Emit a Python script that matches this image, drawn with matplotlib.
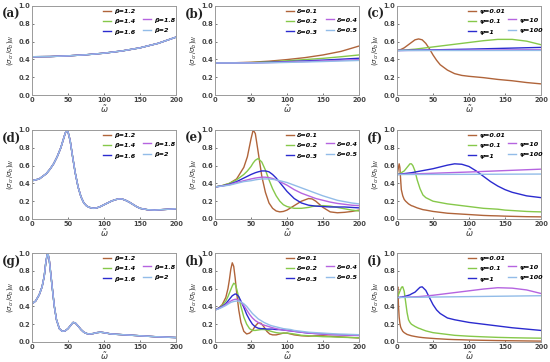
import matplotlib
matplotlib.use("Agg")
import matplotlib.pyplot as plt

# ---------------- data ----------------
beta_labels = ["β=1.2", "β=1.4", "β=1.6", "β=1.8", "β=2"]
delta_labels = ["δ=0.1", "δ=0.2", "δ=0.3", "δ=0.4", "δ=0.5"]
psi_labels = ["ψ=0.01", "ψ=0.1", "ψ=1", "ψ=10", "ψ=100"]
x_ticks = [0, 50, 100, 150, 200]
y_ticks = [0.0, 0.2, 0.4, 0.6, 0.8, 1.0]

# (a) all beta curves coincide
a_x = [0, 25, 50, 75, 100, 125, 150, 175, 200]
a_y = [0.43, 0.432, 0.44, 0.452, 0.47, 0.495, 0.53, 0.58, 0.65]

# (b)
b_x = [0, 25, 50, 75, 100, 125, 150, 175, 200]
b_d01 = [0.36, 0.362, 0.368, 0.38, 0.398, 0.42, 0.45, 0.49, 0.55]
b_d02 = [0.36, 0.361, 0.364, 0.372, 0.385, 0.398, 0.412, 0.43, 0.45]
b_d03 = [0.36, 0.36, 0.362, 0.367, 0.375, 0.383, 0.392, 0.402, 0.413]
b_d04 = [0.36, 0.36, 0.361, 0.364, 0.37, 0.376, 0.383, 0.39, 0.398]
b_d05 = [0.36, 0.36, 0.36, 0.362, 0.366, 0.371, 0.376, 0.382, 0.388]

# (c)
c_x = [0, 5, 10, 15, 20, 25, 30, 35, 40, 45, 50, 55, 60, 70, 80, 90, 100, 120, 140, 160, 180, 200]
c_p001 = [0.5, 0.51, 0.53, 0.56, 0.59, 0.62, 0.63, 0.62, 0.58, 0.52, 0.45, 0.39, 0.34, 0.28, 0.24, 0.22,
          0.21, 0.195, 0.175, 0.16, 0.14, 0.125]
c_p01 = [0.5, 0.502, 0.505, 0.508, 0.512, 0.515, 0.52, 0.525, 0.53, 0.535, 0.54, 0.545, 0.55, 0.56, 0.57,
         0.58, 0.59, 0.61, 0.625, 0.625, 0.605, 0.565]
c_x_lin = [0, 100, 200]
c_p1 = [0.5, 0.515, 0.535]
c_p10 = [0.5, 0.504, 0.51]
c_p100 = [0.5, 0.5, 0.501]

# (d) all beta curves coincide
d_x = [0, 10, 20, 25, 30, 35, 40, 43, 46, 48, 50, 53, 56, 60, 64, 68, 72, 76, 80, 85, 90, 95, 100, 105,
       110, 115, 120, 125, 130, 135, 140, 145, 150, 160, 170, 180, 190, 200]
d_y = [0.43, 0.45, 0.51, 0.56, 0.62, 0.70, 0.80, 0.88, 0.96, 1.0, 0.98, 0.88, 0.72, 0.52, 0.36, 0.25, 0.18,
       0.145, 0.13, 0.12, 0.125, 0.14, 0.16, 0.18, 0.20, 0.215, 0.225, 0.225, 0.21, 0.19, 0.165, 0.14,
       0.12, 0.105, 0.10, 0.105, 0.11, 0.115]

# (e)
e_x = [0, 10, 20, 30, 40, 45, 50, 53, 56, 60, 65, 70, 75, 80, 85, 90, 95, 100, 110, 120, 130, 135, 140,
       150, 160, 170, 180, 190, 200]
e_d01 = [0.36, 0.375, 0.40, 0.45, 0.58, 0.70, 0.90, 1.0, 0.96, 0.75, 0.48, 0.30, 0.18, 0.12, 0.09, 0.08,
         0.085, 0.10, 0.15, 0.20, 0.23, 0.225, 0.20, 0.13, 0.08, 0.07, 0.075, 0.085, 0.10]
e_d02 = [0.36, 0.375, 0.40, 0.44, 0.50, 0.54, 0.59, 0.63, 0.66, 0.68, 0.64, 0.55, 0.44, 0.34, 0.26, 0.20,
         0.16, 0.14, 0.12, 0.12, 0.13, 0.14, 0.145, 0.15, 0.145, 0.13, 0.115, 0.10, 0.09]
e_d03 = [0.36, 0.372, 0.39, 0.42, 0.46, 0.48, 0.50, 0.51, 0.52, 0.53, 0.54, 0.54, 0.53, 0.50, 0.46, 0.41,
         0.36, 0.31, 0.23, 0.18, 0.155, 0.15, 0.145, 0.14, 0.135, 0.135, 0.135, 0.13, 0.125]
e_d04 = [0.36, 0.37, 0.385, 0.41, 0.43, 0.44, 0.45, 0.455, 0.46, 0.465, 0.47, 0.47, 0.465, 0.455, 0.44,
         0.42, 0.40, 0.38, 0.33, 0.29, 0.26, 0.245, 0.23, 0.21, 0.19, 0.175, 0.165, 0.155, 0.15]
e_d05 = [0.36, 0.37, 0.38, 0.40, 0.42, 0.425, 0.43, 0.435, 0.44, 0.445, 0.45, 0.45, 0.45, 0.445, 0.44,
         0.43, 0.42, 0.41, 0.38, 0.35, 0.32, 0.305, 0.29, 0.26, 0.235, 0.21, 0.195, 0.18, 0.17]

# (f)
f_x = [0, 1, 2, 3, 4, 5, 6, 8, 10, 12, 14, 16, 18, 20, 22, 25, 28, 32, 36, 40, 50, 60, 70, 80, 90, 100,
       110, 120, 130, 140, 150, 160, 170, 180, 190, 200]
f_p001 = [0.5, 0.53, 0.58, 0.62, 0.58, 0.45, 0.33, 0.26, 0.22, 0.2, 0.185, 0.17, 0.16, 0.15, 0.145, 0.135,
          0.125, 0.115, 0.105, 0.10, 0.085, 0.075, 0.065, 0.06, 0.055, 0.05, 0.045, 0.04, 0.037, 0.035,
          0.032, 0.03, 0.028, 0.026, 0.025, 0.024]
f_p01 = [0.5, 0.5, 0.5, 0.51, 0.51, 0.52, 0.52, 0.53, 0.54, 0.56, 0.58, 0.60, 0.62, 0.62, 0.60, 0.54,
         0.44, 0.34, 0.27, 0.24, 0.20, 0.185, 0.17, 0.16, 0.15, 0.14, 0.13, 0.12, 0.115, 0.11, 0.10, 0.095,
         0.09, 0.085, 0.082, 0.08]
f_x1 = [0, 20, 40, 50, 60, 70, 80, 90, 100, 110, 120, 130, 140, 150, 160, 170, 180, 190, 200]
f_p1 = [0.5, 0.52, 0.55, 0.565, 0.585, 0.605, 0.62, 0.615, 0.59, 0.54, 0.48, 0.42, 0.37, 0.33, 0.30, 0.28,
        0.26, 0.25, 0.24]
f_x_lin = [0, 100, 200]
f_p10 = [0.5, 0.528, 0.56]
f_p100 = [0.5, 0.502, 0.505]

# (g) all beta curves coincide
g_x = [0, 5, 10, 14, 17, 19, 21, 22, 24, 28, 31, 34, 38, 42, 46, 50, 54, 57, 60, 64, 68, 72, 76, 80, 85,
       90, 95, 100, 110, 120, 130, 140, 150, 160, 170, 180, 190, 200]
g_y = [0.43, 0.46, 0.53, 0.62, 0.74, 0.88, 0.98, 1.0, 0.92, 0.62, 0.40, 0.25, 0.15, 0.12, 0.125, 0.15,
       0.19, 0.22, 0.215, 0.18, 0.14, 0.11, 0.095, 0.09, 0.095, 0.105, 0.11, 0.105, 0.09, 0.085, 0.08,
       0.075, 0.07, 0.065, 0.06, 0.057, 0.053, 0.05]

# (h)
h_x = [0, 5, 10, 15, 18, 20, 22, 24, 26, 28, 30, 33, 36, 40, 44, 48, 52, 56, 60, 64, 68, 72, 76, 80, 85,
       90, 95, 100, 105, 110, 120, 130, 140, 150, 160, 170, 180, 190, 200]
h_d01 = [0.36, 0.38, 0.42, 0.50, 0.60, 0.70, 0.82, 0.89, 0.85, 0.72, 0.56, 0.36, 0.22, 0.12, 0.09, 0.10,
         0.13, 0.18, 0.215, 0.21, 0.17, 0.12, 0.09, 0.08, 0.08, 0.09, 0.10, 0.10, 0.09, 0.08, 0.07, 0.065,
         0.07, 0.07, 0.065, 0.06, 0.055, 0.05, 0.045]
h_d02 = [0.36, 0.38, 0.41, 0.46, 0.51, 0.55, 0.59, 0.63, 0.66, 0.65, 0.60, 0.50, 0.40, 0.28, 0.20, 0.15,
         0.13, 0.13, 0.135, 0.14, 0.14, 0.135, 0.125, 0.115, 0.105, 0.10, 0.10, 0.10, 0.095, 0.09, 0.075,
         0.07, 0.065, 0.06, 0.058, 0.055, 0.052, 0.05, 0.048]
h_d03 = [0.36, 0.38, 0.40, 0.43, 0.46, 0.48, 0.50, 0.52, 0.53, 0.54, 0.535, 0.51, 0.46, 0.39, 0.31, 0.25,
         0.20, 0.17, 0.155, 0.15, 0.15, 0.145, 0.145, 0.145, 0.14, 0.14, 0.135, 0.13, 0.125, 0.12, 0.11,
         0.10, 0.095, 0.09, 0.085, 0.083, 0.08, 0.078, 0.075]
h_d04 = [0.36, 0.375, 0.395, 0.42, 0.44, 0.45, 0.46, 0.47, 0.475, 0.48, 0.48, 0.47, 0.45, 0.41, 0.36, 0.31,
         0.27, 0.24, 0.22, 0.20, 0.19, 0.18, 0.17, 0.16, 0.15, 0.14, 0.135, 0.13, 0.125, 0.12, 0.11, 0.10,
         0.095, 0.09, 0.085, 0.08, 0.078, 0.075, 0.072]
h_d05 = [0.36, 0.372, 0.39, 0.41, 0.425, 0.435, 0.445, 0.45, 0.455, 0.458, 0.46, 0.46, 0.45, 0.43, 0.40,
         0.36, 0.32, 0.29, 0.26, 0.24, 0.22, 0.205, 0.19, 0.18, 0.17, 0.16, 0.15, 0.145, 0.14, 0.13, 0.12,
         0.11, 0.105, 0.10, 0.095, 0.09, 0.088, 0.085, 0.082]

# (i)
i_x = [0, 0.5, 1, 1.5, 2, 3, 4, 5, 6, 7, 8, 10, 12, 14, 16, 18, 20, 25, 30, 32, 35, 40, 45, 50, 55, 60,
       70, 80, 90, 100, 120, 140, 160, 180, 200]
i_p001 = [0.5, 0.58, 0.62, 0.55, 0.42, 0.28, 0.21, 0.17, 0.15, 0.135, 0.12, 0.105, 0.095, 0.085, 0.08,
          0.075, 0.07, 0.062, 0.055, 0.053, 0.05, 0.046, 0.043, 0.04, 0.037, 0.035, 0.03, 0.027, 0.025,
          0.022, 0.019, 0.016, 0.014, 0.012, 0.01]
i_p01 = [0.5, 0.5, 0.51, 0.52, 0.53, 0.55, 0.57, 0.59, 0.61, 0.62, 0.62, 0.57, 0.45, 0.33, 0.25, 0.22,
         0.20, 0.175, 0.155, 0.15, 0.14, 0.125, 0.115, 0.105, 0.10, 0.095, 0.085, 0.075, 0.07, 0.065, 0.058,
         0.052, 0.048, 0.045, 0.043]
i_p1 = [0.5, 0.5, 0.5, 0.5, 0.5, 0.5, 0.5, 0.505, 0.505, 0.505, 0.51, 0.51, 0.515, 0.52, 0.525, 0.53, 0.54,
        0.56, 0.60, 0.615, 0.62, 0.58, 0.50, 0.42, 0.36, 0.32, 0.27, 0.25, 0.235, 0.22, 0.2, 0.18, 0.16,
        0.145, 0.13]
i_x10 = [0, 30, 50, 70, 100, 120, 140, 160, 180, 200]
i_p10 = [0.5, 0.51, 0.525, 0.545, 0.575, 0.595, 0.61, 0.605, 0.585, 0.545]
i_x_lin = [0, 100, 200]
i_p100 = [0.5, 0.51, 0.52]

# ---------------- styling ----------------
colors = ["#b0643a", "#86c84a", "#2b2bcf", "#b564e0", "#92bce8"]
tick_color = "#444444"
spine_color = "#9a9a9a"

fig = plt.figure(figsize=(5.5, 3.62), dpi=100)
W, H = 550.0, 362.0
col_left = [32, 215, 397]
ax_w = 144
row_top = [6, 130, 253]
ax_h = 89

panels = [
    ("(a)", beta_labels, [(a_x, a_y)] * 5),
    ("(b)", delta_labels, [(b_x, b_d01), (b_x, b_d02), (b_x, b_d03), (b_x, b_d04), (b_x, b_d05)]),
    ("(c)", psi_labels, [(c_x, c_p001), (c_x, c_p01), (c_x_lin, c_p1), (c_x_lin, c_p10), (c_x_lin, c_p100)]),
    ("(d)", beta_labels, [(d_x, d_y)] * 5),
    ("(e)", delta_labels, [(e_x, e_d01), (e_x, e_d02), (e_x, e_d03), (e_x, e_d04), (e_x, e_d05)]),
    ("(f)", psi_labels, [(f_x, f_p001), (f_x, f_p01), (f_x1, f_p1), (f_x_lin, f_p10), (f_x_lin, f_p100)]),
    ("(g)", beta_labels, [(g_x, g_y)] * 5),
    ("(h)", delta_labels, [(h_x, h_d01), (h_x, h_d02), (h_x, h_d03), (h_x, h_d04), (h_x, h_d05)]),
    ("(i)", psi_labels, [(i_x, i_p001), (i_x, i_p01), (i_x, i_p1), (i_x10, i_p10), (i_x_lin, i_p100)]),
]

for idx, (tag, labels, series) in enumerate(panels):
    r, c = divmod(idx, 3)
    left = col_left[c] / W
    bottom = 1 - (row_top[r] + ax_h) / H
    ax = fig.add_axes([left, bottom, ax_w / W, ax_h / H])
    handles = []
    for k, (xs, ys) in enumerate(series):
        ln, = ax.plot(xs, ys, color=colors[k], lw=1.0, label=labels[k])
        handles.append(ln)
    ax.set_xlim(0, 200)
    ax.set_ylim(0, 1.0)
    ax.set_xticks(x_ticks)
    ax.set_yticks(y_ticks)
    ax.set_yticklabels([f"{v:.1f}" for v in y_ticks])
    ax.tick_params(labelsize=4.8, colors=tick_color, length=1.5, width=0.5, pad=1.5, direction="in")
    for lab in ax.get_xticklabels() + ax.get_yticklabels():
        lab.set_fontweight("bold")
    for sp in ax.spines.values():
        sp.set_color(spine_color)
        sp.set_linewidth(0.7)
    ax.set_xlabel(r"$\tilde{\omega}$", fontsize=6, labelpad=0, color="#333333")
    ax.set_ylabel(r"$(\sigma_{cr}/\sigma_b)_W$", fontsize=5, labelpad=2, color="#333333")
    prop = dict(size=4.6, style="italic", weight="bold")
    common = dict(frameon=False, prop=prop, handlelength=1.3, handletextpad=0.5,
                  labelspacing=0.75, borderaxespad=0.0, borderpad=0.0)
    leg1 = ax.legend(handles[:3], labels[:3], loc="upper left", bbox_to_anchor=(0.49, 0.97), **common)
    ax.add_artist(leg1)
    ax.legend(handles[3:], labels[3:], loc="upper left", bbox_to_anchor=(0.77, 0.875), **common)
    fig.text((col_left[c] - 30) / W, 1 - (row_top[r] + 8) / H, tag, fontsize=8.5,
             family="DejaVu Serif", fontweight="bold", va="center", ha="left", color="#222222")

fig.savefig("out.png", dpi=100)
